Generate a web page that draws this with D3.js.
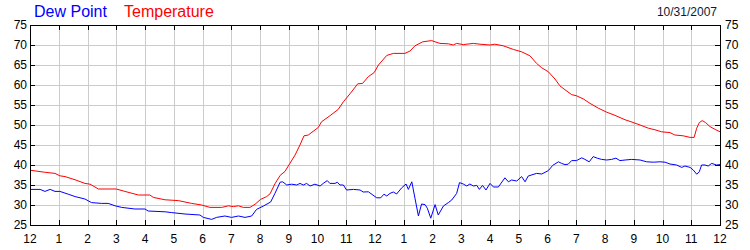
<!DOCTYPE html>
<html>
<head>
<meta charset="utf-8">
<script src="https://cdn.jsdelivr.net/npm/d3@7"></script>
<style>
  html, body { margin: 0; padding: 0; background: #fff; }
  svg { display: block; font-family: "Liberation Sans", Arial, sans-serif; }
</style>
</head>
<body>
<div id="chart"></div>
<script>
// ---- Data (hours since midnight, °F) ----
const hourLabels = ['12','1','2','3','4','5','6','7','8','9','10','11',
                    '12','1','2','3','4','5','6','7','8','9','10','11','12'];
const yTicks = [25, 30, 35, 40, 45, 50, 55, 60, 65, 70, 75];

const tempHours = [0, 0.5, 0.87, 1.04, 1.22, 1.57, 1.91, 2.09, 2.38, 3.0, 3.3, 3.77, 4.17, 4.29, 4.7,
  5.16, 5.62, 5.97, 6.26, 6.67, 6.9, 7.07, 7.25, 7.42, 7.65, 7.83, 8.02, 8.23, 8.35, 8.52, 8.7,
  8.87, 9.04, 9.22, 9.39, 9.53, 9.68, 10.03, 10.14, 10.43, 10.72, 10.9, 11.13, 11.4, 11.57,
  11.77, 11.97, 12.12, 12.41, 12.64, 13.04, 13.22, 13.39, 13.66, 13.97, 14.09, 14.26, 14.55,
  14.72, 14.84, 15.07, 15.42, 15.65, 16.0, 16.17, 16.46, 16.81, 17.1, 17.39, 17.62, 17.8,
  18.03, 18.26, 18.43, 18.61, 18.84, 19.01, 19.25, 19.48, 19.77, 20.06, 20.35, 20.7, 20.87,
  21.22, 21.51, 21.74, 21.97, 22.26, 22.43, 22.72, 22.96, 23.1, 23.19, 23.28, 23.38, 23.5,
  23.65, 23.83, 24];
const tempValues = [38.7, 38.2, 37.9, 37.3, 37.1, 36.3, 35.4, 35.2, 34.0, 34.0, 33.4, 32.5, 32.5, 31.9, 31.3,
  31.1, 30.4, 30.0, 29.4, 29.4, 29.8, 29.6, 29.8, 29.4, 29.4, 30.2, 31.4, 32.1, 32.8, 35.3, 37.4,
  38.4, 40.4, 42.5, 45.0, 47.3, 47.5, 49.4, 50.8, 52.3, 53.9, 55.8, 57.8, 60.3, 60.4,
  62.1, 63.1, 65.0, 67.4, 67.9, 67.9, 68.5, 69.8, 70.8, 71.1, 70.8, 70.4, 70.3,
  70.0, 70.4, 70.1, 70.4, 70.2, 70.0, 70.2, 69.8, 68.9, 68.3, 67.3, 65.4, 64.3,
  63.3, 61.5, 59.8, 58.8, 57.6, 57.3, 56.5, 55.4, 54.2, 53.2, 52.4, 51.3, 50.9,
  50.0, 49.2, 48.8, 48.3, 48.1, 47.5, 47.3, 46.9, 46.9, 49.2, 50.6, 51.1, 50.6,
  49.6, 48.9, 48.3];

const dewHours = [0, 0.35, 0.52, 0.7, 0.87, 1.04, 1.33, 1.57, 1.91, 2.14, 2.49, 2.72, 2.96, 3.19, 3.65,
  4.0, 4.11, 4.7, 4.93, 5.39, 5.91, 6.03, 6.32, 6.49, 6.78, 7.01, 7.25, 7.48, 7.71, 7.88, 8.12,
  8.37, 8.52, 8.7, 8.79, 8.93, 9.1, 9.28, 9.39, 9.51, 9.62, 9.74, 9.91, 10.09, 10.2, 10.34,
  10.43, 10.61, 10.69, 10.78, 10.9, 11.01, 11.25, 11.48, 11.59, 11.77, 12.06, 12.2, 12.31,
  12.41, 12.52, 12.64, 12.75, 12.93, 13.08, 13.16, 13.28, 13.39, 13.51, 13.62, 13.74, 13.82,
  13.94, 14.09, 14.2, 14.38, 14.55, 14.67, 14.84, 14.94, 15.07, 15.19, 15.3, 15.42, 15.54,
  15.63, 15.74, 15.86, 16.0, 16.12, 16.29, 16.52, 16.64, 16.75, 16.93, 17.1, 17.22, 17.33,
  17.62, 17.8, 18.03, 18.18, 18.38, 18.49, 18.61, 18.72, 18.84, 19.01, 19.19, 19.3, 19.45,
  19.59, 19.73, 19.88, 20.06, 20.23, 20.38, 20.52, 20.7, 20.93, 21.22, 21.45, 21.68, 21.91,
  22.09, 22.26, 22.49, 22.67, 22.78, 22.96, 23.07, 23.19, 23.28, 23.36, 23.48, 23.59, 23.71,
  23.88, 24];
const dewValues = [33.9, 33.9, 33.4, 33.9, 33.4, 33.4, 32.7, 32.1, 31.5, 30.6, 30.4, 30.4, 29.8, 29.4, 29.0,
  29.0, 28.5, 28.3, 28.1, 27.75, 27.5, 26.9, 26.4, 26.9, 27.25, 26.9, 27.25, 26.9, 27.25, 28.9, 29.75,
  30.75, 32.9, 35.7, 35.8, 35.0, 35.2, 35.0, 35.4, 35.0, 35.4, 34.75, 35.2, 34.75, 35.4, 36.1,
  35.4, 35.4, 35.7, 35.0, 35.0, 33.75, 33.9, 33.75, 33.25, 33.3, 31.8, 31.8, 32.7,
  32.25, 32.9, 33.25, 32.75, 34.3, 35.25, 33.9, 35.8, 31.7, 27.25, 30.25, 30.1, 29.2,
  26.7, 30.1, 27.5, 29.75, 30.6, 31.25, 32.9, 35.6, 35.25, 34.75, 35.25, 34.75, 34.9,
  33.9, 34.9, 33.75, 35.4, 34.5, 34.5, 36.8, 35.8, 36.25, 36.0, 37.1, 35.8, 37.25,
  37.9, 37.75, 38.6, 39.9, 40.8, 40.4, 40.1, 40.2, 41.1, 41.1, 41.8, 41.4, 40.8,
  42.1, 41.7, 41.4, 41.25, 41.4, 41.7, 41.1, 41.25, 41.4, 41.25, 40.8, 40.7, 40.8,
  40.7, 40.25, 40.0, 39.4, 39.75, 39.4, 38.75, 37.7, 38.3, 40.0, 40.0, 39.75, 40.4,
  40.0, 40.1];

const W = 750, H = 250;
const m = { top: 25, right: 30, bottom: 25, left: 30 };

const svg = d3.select('#chart').append('svg')
  .attr('width', W).attr('height', H);

const xScale = d3.scaleLinear().domain([0, 24]).range([m.left, W - m.right]);
const yScale = d3.scaleLinear().domain([25, 75]).range([H - m.bottom, m.top]);

const px = v => Math.round(v) + 0.5;

// ---- Grid ----
const grid = svg.append('g').attr('stroke', '#cccccc').attr('stroke-width', 1);
grid.selectAll('.hx').data(d3.range(1, 24)).enter().append('line')
  .attr('x1', d => px(xScale(d))).attr('x2', d => px(xScale(d)))
  .attr('y1', m.top).attr('y2', H - m.bottom);
grid.selectAll('.hy').data(yTicks.slice(1, -1)).enter().append('line')
  .attr('x1', m.left).attr('x2', W - m.right)
  .attr('y1', d => px(yScale(d))).attr('y2', d => px(yScale(d)));

// ---- Series ----
const line = d3.line().x(d => xScale(d[0])).y(d => yScale(d[1]));
const dewData = d3.zip(dewHours, dewValues);
const tempData = d3.zip(tempHours, tempValues);

svg.append('path').datum(dewData)
  .attr('d', line).attr('fill', 'none')
  .attr('stroke', '#0000ff').attr('stroke-width', 1);
svg.append('path').datum(tempData)
  .attr('d', line).attr('fill', 'none')
  .attr('stroke', '#ff0000').attr('stroke-width', 1);

// ---- Frame + inward ticks ----
const frame = svg.append('g').attr('stroke', '#000').attr('stroke-width', 1);
frame.append('rect')
  .attr('x', px(m.left)).attr('y', px(m.top))
  .attr('width', Math.round(W - m.right) - Math.round(m.left))
  .attr('height', Math.round(H - m.bottom) - Math.round(m.top))
  .attr('fill', 'none');

const tickLen = 5;
d3.range(1, 24).forEach(h => {
  const x = px(xScale(h));
  frame.append('line').attr('x1', x).attr('x2', x).attr('y1', m.top).attr('y2', m.top + tickLen);
  frame.append('line').attr('x1', x).attr('x2', x).attr('y1', H - m.bottom).attr('y2', H - m.bottom - tickLen);
});
yTicks.slice(1, -1).forEach(v => {
  const y = px(yScale(v));
  frame.append('line').attr('x1', m.left).attr('x2', m.left + tickLen).attr('y1', y).attr('y2', y);
  frame.append('line').attr('x1', W - m.right).attr('x2', W - m.right - tickLen).attr('y1', y).attr('y2', y);
});

// ---- Tick labels ----
const labelStyle = sel => sel.attr('fill', '#000').style('font-size', '12px');

svg.selectAll('.yl').data(yTicks).enter().append('text')
  .call(labelStyle)
  .attr('x', m.left - 3).attr('y', d => yScale(d)).attr('dy', '0.35em')
  .attr('text-anchor', 'end').text(d => d);
svg.selectAll('.yr').data(yTicks).enter().append('text')
  .call(labelStyle)
  .attr('x', W - m.right + 5).attr('y', d => yScale(d)).attr('dy', '0.35em')
  .attr('text-anchor', 'start').text(d => d);
svg.selectAll('.xl').data(hourLabels).enter().append('text')
  .call(labelStyle)
  .attr('x', (d, i) => xScale(i)).attr('y', H - 7)
  .attr('text-anchor', 'middle').text(d => d);

// ---- Legend + date ----
svg.append('text').attr('x', 34).attr('y', 17)
  .attr('fill', '#0000ff').style('font-size', '16px').text('Dew Point');
svg.append('text').attr('x', 124).attr('y', 17)
  .attr('fill', '#ff0000').style('font-size', '16px').text('Temperature');
svg.append('text').attr('x', 717).attr('y', 16)
  .attr('text-anchor', 'end').attr('fill', '#0a1a3a').style('font-size', '12px').text('10/31/2007');
</script>
</body>
</html>
